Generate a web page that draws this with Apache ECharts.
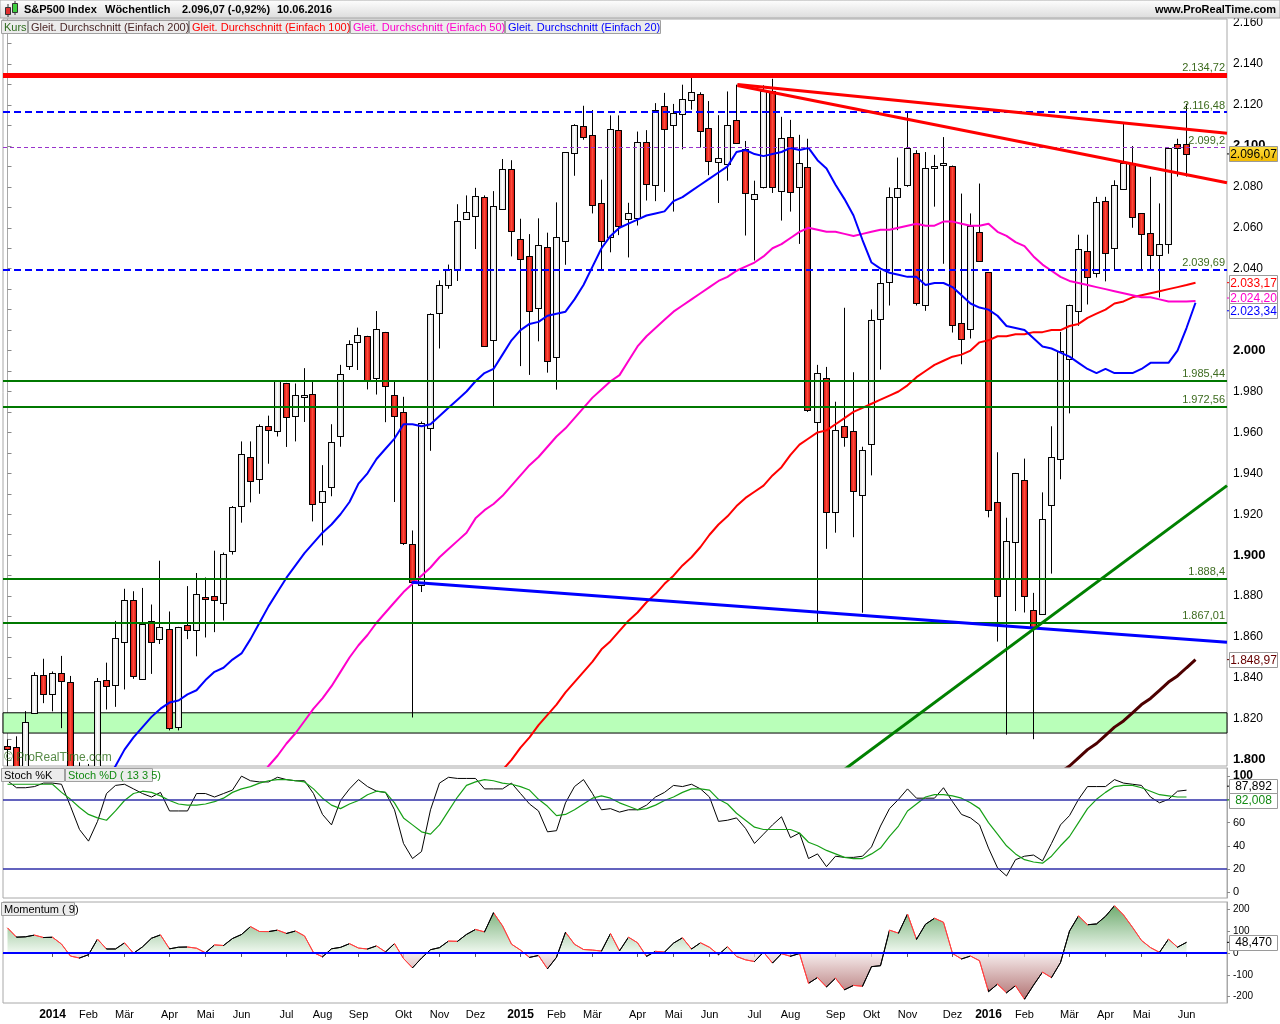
<!DOCTYPE html>
<html>
<head>
<meta charset="utf-8">
<title>S&amp;P500 Index Wöchentlich</title>
<script src="https://cdn.jsdelivr.net/npm/echarts@6/dist/echarts.min.js"></script>
<style>
html, body { margin: 0; padding: 0; background: #fff; }
#chart { width: 1280px; height: 1024px; }
</style>
</head>
<body>
<div id="chart"></div>
<script>
// weekly bars, first week starts Mon 2013-12-02, last one is the week of 06.06.2016
const firstWeek = '2013-12-02';
const weekCount = 136; // 132 bars + 4 empty weeks on the right
const monthAbbr = ['Jan', 'Feb', 'Mär', 'Apr', 'Mai', 'Jun', 'Jul', 'Aug', 'Sep', 'Okt', 'Nov', 'Dez'];

const open = [1806.6,1806.2,1776.0,1822.9,1841.5,1832.3,1842.3,1837.9,1791.0,1782.7,
1796.2,1838.8,1836.8,1857.7,1877.9,1839.6,1867.7,1859.2,1863.9,1816.0,
1865.8,1863.6,1879.5,1880.0,1876.7,1902.0,1923.9,1948.0,1937.2,1962.9,
1960.8,1984.2,1968.0,1977.1,1979.0,1926.0,1933.4,1958.4,1992.6,2004.1,
2007.2,1986.8,2009.1,1978.2,1970.0,1905.6,1885.6,1962.0,2018.2,2032.0,
2039.7,2064.1,2065.8,2074.8,2005.0,2069.3,2088.5,2054.4,2046.1,2020.8,
2050.4,1996.7,2053.5,2096.5,2109.8,2105.2,2072.3,2055.4,2108.0,2064.1,
2065.0,2102.0,2081.0,2119.3,2110.2,2115.6,2122.3,2125.3,2108.6,2092.3,
2091.3,2112.5,2098.6,2074.0,2080.0,2126.8,2078.2,2104.5,2080.0,2089.7,
1965.2,1986.7,1921.0,1963.1,1960.8,1929.2,1954.3,2015.6,2033.5,2075.1,
2080.8,2096.6,2022.1,2089.4,2090.9,2090.4,2013.4,2010.3,2057.8,2038.2,
1926.1,1888.7,1906.3,1936.9,1873.3,1871.4,1924.4,1947.0,1996.1,2019.3,
2048.6,2037.9,2073.2,2050.0,2078.8,2091.6,2067.2,2057.6,2046.5,2052.2,
2100.8,2100.8];

const high = [1810.0,1811.5,1823.8,1842.8,1849.4,1843.2,1850.8,1841.0,1798.8,1798.0,
1840.0,1847.5,1867.9,1883.6,1882.4,1884.0,1875.9,1897.3,1872.5,1865.0,
1884.9,1891.3,1889.1,1902.2,1901.3,1924.0,1955.6,1955.6,1963.9,1968.2,
1985.6,1984.2,1983.9,1991.4,1984.9,1944.0,1964.0,1993.0,2005.0,2011.2,
2007.2,2019.3,2009.1,1985.2,1977.4,1912.1,1965.3,2018.2,2034.3,2042.0,
2071.5,2075.8,2079.5,2075.8,2077.9,2093.6,2093.0,2064.4,2056.9,2064.6,
2057.6,2072.4,2097.0,2110.6,2119.6,2117.5,2083.5,2114.9,2114.9,2072.2,
2107.0,2107.7,2120.9,2125.9,2120.5,2129.9,2134.7,2126.2,2121.9,2115.0,
2126.6,2129.9,2102.4,2083.0,2129.6,2132.8,2114.2,2112.7,2105.4,2103.5,
1993.0,1992.0,1975.0,2020.9,1989.4,1953.0,2020.1,2039.1,2079.7,2094.3,
2116.5,2097.9,2097.0,2095.6,2104.3,2090.4,2076.7,2067.0,2081.6,2038.2,
1950.3,1918.3,1940.2,1947.2,1881.6,1930.7,1963.0,2009.1,2022.4,2056.6,
2056.6,2075.1,2075.1,2083.2,2111.1,2099.9,2067.2,2084.9,2071.9,2099.3,
2103.5,2120.6];

const low = [1779.1,1772.3,1767.1,1822.9,1827.7,1823.7,1815.5,1790.3,1770.5,1737.9,
1791.8,1824.6,1825.9,1834.4,1839.6,1839.6,1842.0,1856.6,1814.4,1814.4,
1859.0,1850.6,1859.8,1862.4,1868.1,1900.3,1915.9,1925.8,1930.0,1944.7,
1958.0,1952.9,1955.6,1965.1,1916.5,1904.8,1928.8,1953.0,1990.5,1990.5,
1981.0,1978.5,1965.0,1926.0,1905.0,1820.7,1882.0,1951.0,2001.0,2030.2,
2034.0,2064.1,2049.6,2002.3,1972.6,2069.3,2046.0,1992.4,1988.1,2004.5,
1989.2,1980.9,2041.9,2085.4,2103.0,2067.0,2039.7,2048.0,2056.4,2045.5,
2061.1,2073.3,2073.0,2077.5,2067.9,2098.3,2117.7,2099.2,2085.7,2072.1,
2083.0,2101.0,2056.2,2044.0,2079.2,2077.0,2063.5,2067.9,2052.1,1970.0,
1867.0,1903.1,1911.0,1953.0,1908.8,1871.9,1939.0,1990.7,2022.0,2058.8,
2080.0,2022.0,2019.4,2070.3,2042.4,2008.8,1993.3,2005.9,2043.6,1918.5,
1857.8,1812.3,1872.7,1872.0,1810.1,1871.4,1891.0,1937.1,1969.3,2012.1,
2022.5,2035.7,2033.8,2039.7,2078.8,2060.0,2039.7,2039.5,2025.9,2047.3,
2085.0,2085.0];

const close = [1805.1,1775.3,1818.3,1841.4,1832.0,1842.4,1838.7,1790.3,1782.6,1797.0,
1838.6,1836.3,1859.5,1878.0,1841.1,1866.5,1857.6,1865.1,1815.7,1864.9,
1863.4,1881.1,1878.5,1877.9,1900.5,1923.6,1949.4,1936.2,1962.9,1961.0,
1985.4,1967.6,1978.2,1978.3,1925.2,1931.6,1955.1,1988.4,2003.4,2007.7,
1985.5,2010.4,1982.9,1967.9,1906.1,1886.8,1964.6,2018.1,2031.9,2039.8,
2063.5,2067.6,2075.4,2002.3,2070.7,2088.8,2058.2,2044.8,2019.4,2051.8,
1995.0,2055.5,2097.0,2110.3,2104.5,2071.3,2053.4,2108.1,2061.0,2067.0,
2102.1,2081.2,2117.7,2108.3,2116.1,2122.7,2126.1,2107.4,2092.8,2094.1,
2110.0,2101.5,2076.8,2076.6,2126.6,2079.7,2103.8,2077.6,2091.5,1970.9,
1988.9,1921.2,1961.1,1958.0,1931.3,1951.4,2014.9,2033.1,2075.2,2079.4,
2099.2,2023.0,2089.2,2090.1,2091.7,2012.4,2005.6,2061.0,2043.9,1922.0,
1880.3,1906.9,1940.2,1880.1,1864.8,1917.8,1948.1,2000.0,2022.2,2049.6,
2035.9,2072.8,2047.6,2080.7,2091.6,2065.3,2057.1,2046.6,2052.3,2099.1,
2099.1,2096.07];

// moving averages (first value sits at the given week index)
const ma20Start = 11;
const ma20 = [1790,1797,1805,1811,1816,1821,1825,1828,1829,1832,1834,1839,1843,1845,1849,1852,1859,1867,1875,1882,
1889,1895,1901,1906,1911,1915,1920,1926,1935,1940,1947,1952,1957,1964,1964,1963,1964,1968,1972,1976,
1980,1985,1989,1991,1998,2005,2010,2013,2014,2017,2018,2019,2025,2032,2041,2050,2056,2060,2062,2064,
2066,2067,2068,2073,2075,2078,2081,2084,2087,2090,2097,2098,2096,2095,2096,2097,2099,2098,2099,2093,
2089,2081,2074,2066,2054,2043,2040,2038,2037,2036,2036,2032,2033,2033,2031,2027,2023,2021,2020,2017,
2012,2011,2010,2006,2002,2001,1999,1997,1994,1991,1989,1991,1989,1989,1989,1991,1994,1994,1994,2000,
2011,2023.34];
const ma50Start = 28;
const ma50 = [1791,1797,1802,1808,1813,1819,1825,1830,1836,1843,1850,1856,1861,1867,1872,1877,1882,1886,1890,1894,
1899,1903,1907,1911,1918,1922,1925,1929,1934,1939,1944,1948,1953,1958,1962,1967,1972,1977,1981,1985,
1988,1995,2002,2007,2011,2015,2019,2022,2025,2028,2031,2034,2036,2039,2041,2043,2046,2050,2052,2055,
2058,2060,2059,2058,2058,2057,2056,2057,2058,2059,2059,2060,2061,2062,2061,2061,2063,2063,2062,2061,
2061,2062,2058,2056,2053,2051,2046,2042,2039,2036,2034,2033,2032,2031,2030,2029,2028,2027,2026,2026,
2025,2024,2024,2024,2024.20];
const ma100Start = 54;
const ma100 = [1790,1795,1800,1806,1811,1817,1822,1827,1833,1838,1843,1848,1854,1858,1863,1868,1872,1877,1881,1886,
1890,1895,1899,1904,1910,1915,1919,1924,1928,1931,1934,1939,1943,1949,1954,1957,1960,1961,1964,1967,
1970,1972,1974,1976,1978,1980,1983,1987,1990,1993,1995,1997,1998,2000,2004,2005,2007,2007,2008,2008,
2009,2009,2010,2010,2012,2013,2016,2018,2020,2023,2024,2026,2027,2028,2029,2030,2031,2032,2033.17];
const ma200Start = 117;
const ma200 = [1794,1797,1801,1805,1808,1812,1816,1819,1823,1827,1830,1834,1838,1841,1845,1848.97];

// horizontal levels and drawn trend lines (week index, price)
const levelValues = [2134.72, 2116.48, 2099.2, 2039.69, 1985.44, 1972.56, 1888.4, 1867.01];
const zoneBand = [1813.1, 1823.0];
const trendUpperRed = [[81.1, 2130.0], [135.5, 2106.2]];
const trendLowerRed = [[81.1, 2129.5], [135.5, 2082.0]];
const trendBlue = [[44.9, 1886.8], [135.5, 1857.5]];
const trendGreen = [[91.0, 1788.8], [135.5, 1934.0]];

// Stochastic (13 3 5)
const stochK = [96,90,90,91,94,94,93,74,54,44,61,85,92,93,89,85,82,86,70,70,
70,85,85,82,85,88,100,96,95,95,99,97,96,96,85,67,58,79,89,97,
91,87,86,71,42,29,35,71,94,99,98,98,98,89,89,89,94,85,76,70,
52,53,77,91,97,85,71,72,69,71,71,75,82,86,92,91,93,89,82,61,
62,64,55,42,50,58,65,47,51,29,33,22,31,30,30,31,39,57,72,80,
89,81,81,81,90,78,67,64,58,38,21,14,28,31,32,27,42,58,66,80,
91,91,91,97,94,93,92,82,77,80,87,87.892];
const stochD = [93,93,93,93,93,93,86,80,73,67,64,62,70,79,85,87,86,83,79,76,
75,75,76,78,81,86,89,91,94,96,97,97,96,95,89,81,75,72,76,79,
84,87,86,77,64,58,52,50,58,70,82,92,95,97,96,94,93,91,88,80,
74,66,67,71,76,81,83,81,77,74,71,72,75,79,82,86,89,89,88,80,
76,68,62,56,54,54,54,54,51,43,40,36,33,30,29,29,33,38,48,57,
70,76,82,84,84,83,81,77,72,60,50,40,33,28,26,25,31,40,48,60,
72,80,86,91,92,92,90,87,84,83,82,82.008];

// Momentum (9)
const momentum = [114.6,72.1,73.8,81.6,70.4,71.8,40.5,-14.5,-23.2,-8.1,
63.3,18.0,18.1,46.0,-1.3,27.8,67.3,82.5,18.7,26.3,
27.1,21.6,0.5,36.8,34.0,66.0,84.3,120.5,98.0,97.6,
104.3,89.1,100.3,77.8,1.6,-17.8,18.9,25.5,42.4,22.3,
17.9,32.2,4.6,42.7,-25.5,-68.3,-23.8,14.7,24.2,54.3,
53.1,84.7,107.5,96.2,183.9,124.2,40.1,12.9,-20.4,-11.7,
-72.6,-19.9,94.7,39.6,15.7,13.1,8.6,88.7,9.2,72.0,
46.6,-15.8,7.4,3.8,44.8,69.3,18.0,46.4,25.8,-8.0,
28.8,-16.2,-31.5,-39.5,3.9,-46.4,-3.6,-15.2,-2.6,-139.1,
-112.6,-155.6,-115.5,-168.6,-148.4,-152.4,-62.7,-58.4,104.3,90.5,
178.0,61.9,131.2,158.8,140.3,-2.5,-27.5,-14.2,-35.5,-177.2,
-142.7,-182.3,-149.9,-211.6,-147.6,-87.8,-112.9,-43.9,100.2,169.3,
129.0,132.6,167.5,215.9,173.8,117.2,57.1,24.4,2.7,63.2,
26.3,48.47];

const priceLabels = [1800,1820,1840,1860,1880,1900,1920,1940,1960,1980,2000,2020,2040,2060,2080,2100,2120,2140,2160];
const stochLabels = [0, 20, 40, 60, 80, 100];
const stochBands = [80, 20];
const momLabels = [-200, -100, 0, 100, 200];

// ---------------------------------------------------------------
const FONT = '"Liberation Sans", Arial, sans-serif';

const weeks = [];
const t0 = Date.parse(firstWeek + 'T00:00:00Z');
for (let i = 0; i < weekCount; i++) {
  weeks.push(new Date(t0 + i * 7 * 86400000).toISOString().slice(0, 10));
}
const lastBar = close.length - 1;
function isMonthStart(i) {
  if (i <= 0 || i > lastBar) return false;
  return weeks[i].slice(5, 7) !== weeks[i - 1].slice(5, 7);
}

function fmtDe(v) {
  const s = String(v);
  const parts = s.split('.');
  const neg = parts[0].charAt(0) === '-';
  const digits = neg ? parts[0].slice(1) : parts[0];
  const grouped = digits.replace(/\B(?=(\d{3})+(?!\d))/g, '.');
  return (neg ? '-' : '') + grouped + (parts[1] ? ',' + parts[1] : '');
}
function fmtFix(v, d) { return fmtDe(v.toFixed(d)); }

function padSeries(start, vals) {
  const out = new Array(weekCount).fill(null);
  vals.forEach((v, k) => { out[start + k] = v; });
  return out;
}

const candleData = open.map((o, i) => [i, o, close[i], low[i], high[i]]);
const priceTicks = [];
priceLabels.forEach(v => { priceTicks.push(v); if (v + 10 <= 2160) priceTicks.push(v + 10); });

const grad = (a, b) => new echarts.graphic.LinearGradient(0, 0, 1, 0, [
  { offset: 0, color: a }, { offset: 0.5, color: b }, { offset: 1, color: a }
]);
const upFill = grad('#d4d4d4', '#ffffff');
const downFill = grad('#c40000', '#ff4a3a');

// candle drawn by hand so it can be clipped to the price panel
function renderCandle(params, api) {
  const i = api.value(0);
  const o = api.value(1), c = api.value(2), l = api.value(3), h = api.value(4);
  const pO = api.coord([i, o]);
  const cx = Math.round(pO[0]) - 1;
  const yC = api.coord([i, c])[1];
  const yH = api.coord([i, h])[1];
  const yL = api.coord([i, l])[1];
  const top = Math.round(Math.min(pO[1], yC)) + 0.5;
  const bot = Math.round(Math.max(pO[1], yC)) + 0.5;
  return {
    type: 'group',
    children: [
      { type: 'line', shape: { x1: cx + 0.5, y1: yH, x2: cx + 0.5, y2: yL }, style: { stroke: '#000', lineWidth: 1 } },
      { type: 'rect', shape: { x: cx - 2.5, y: top, width: 6, height: Math.max(bot - top, 1) },
        style: { fill: c >= o ? upFill : downFill, stroke: '#000', lineWidth: 1 } }
    ]
  };
}

const levelStyles = [
  { color: '#ff0000', width: 5, type: 'solid' },
  { color: '#0000ff', width: 2, type: [7, 4] },
  { color: '#9933cc', width: 1, type: [4, 3] },
  { color: '#0000ff', width: 2, type: [7, 4] },
  { color: '#007800', width: 2, type: 'solid' },
  { color: '#007800', width: 2, type: 'solid' },
  { color: '#007800', width: 2, type: 'solid' },
  { color: '#007800', width: 2, type: 'solid' }
];

const momPieces = [];
for (let i = 1; i < momentum.length; i++) {
  momPieces.push({ gt: i - 1, lte: i, color: momentum[i] >= momentum[i - 1] ? '#000000' : '#ff4040' });
}

const GRID_L = 3, GRID_W = 1224;

const option = {
  animation: false,
  backgroundColor: '#ffffff',
  textStyle: { fontFamily: FONT },
  grid: [
    { left: GRID_L, width: GRID_W, top: 19, height: 747, show: true, borderColor: '#a8a8a8', borderWidth: 1 },
    { left: GRID_L, width: GRID_W, top: 768, height: 130, show: true, borderColor: '#a8a8a8', borderWidth: 1 },
    { left: GRID_L, width: GRID_W, top: 902, height: 101, show: true, borderColor: '#a8a8a8', borderWidth: 1 }
  ],
  xAxis: [
    { type: 'category', gridIndex: 0, data: weeks, axisLine: { show: false }, axisTick: { show: false }, axisLabel: { show: false } },
    { type: 'category', gridIndex: 1, data: weeks, axisLine: { show: false }, axisTick: { show: false }, axisLabel: { show: false } },
    {
      type: 'category', gridIndex: 2, data: weeks,
      axisLine: { show: true, lineStyle: { color: '#a8a8a8' } },
      axisTick: { show: true, alignWithLabel: true, length: 4, interval: (i) => isMonthStart(i), lineStyle: { color: '#555' } },
      axisLabel: {
        interval: (i) => isMonthStart(i),
        margin: 6, fontSize: 11, color: '#000', fontFamily: FONT,
        formatter: (value) => {
          const m = +value.slice(5, 7);
          return m === 1 ? '{y|' + value.slice(0, 4) + '}' : monthAbbr[m - 1];
        },
        rich: { y: { fontWeight: 'bold', fontSize: 12, fontFamily: FONT, color: '#000' } }
      }
    },
    { type: 'value', gridIndex: 0, min: -0.5, max: weekCount - 0.5, show: false }
  ],
  yAxis: [
    {
      type: 'value', gridIndex: 0, position: 'right', min: 1797, max: 2162,
      splitLine: { show: false },
      axisLine: { show: true, lineStyle: { color: '#a8a8a8' } },
      axisTick: { show: true, length: 4, customValues: priceTicks, lineStyle: { color: '#888' } },
      axisLabel: {
        customValues: priceLabels, margin: 6, fontSize: 12, color: '#000', fontFamily: FONT,
        formatter: v => (v % 100 === 0 ? '{b|' + fmtDe(v) + '}' : fmtDe(v)),
        rich: { b: { fontWeight: 'bold', fontSize: 13, fontFamily: FONT, color: '#000' } }
      }
    },
    {
      type: 'value', gridIndex: 1, position: 'right', min: -5, max: 107,
      splitLine: { show: false },
      axisLine: { show: true, lineStyle: { color: '#a8a8a8' } },
      axisTick: { show: true, length: 3, customValues: stochLabels, lineStyle: { color: '#888' } },
      axisLabel: {
        customValues: stochLabels, margin: 6, fontSize: 11, color: '#000', fontFamily: FONT,
        formatter: v => (v === 100 ? '{b|100}' : String(v)),
        rich: { b: { fontWeight: 'bold', fontSize: 12, fontFamily: FONT } }
      }
    },
    {
      type: 'value', gridIndex: 2, position: 'right', min: -229, max: 233,
      splitLine: { show: false },
      axisLine: { show: true, lineStyle: { color: '#a8a8a8' } },
      axisTick: { show: true, length: 3, customValues: momLabels, lineStyle: { color: '#888' } },
      axisLabel: { customValues: momLabels, margin: 6, fontSize: 10, color: '#000', fontFamily: FONT }
    }
  ],
  visualMap: [{
    type: 'piecewise', show: false, dimension: 0, seriesIndex: 12,
    pieces: momPieces, outOfRange: { color: '#000' }
  }],
  series: [
    // 0 green zone
    {
      type: 'line', xAxisIndex: 3, yAxisIndex: 0, data: [], z: 1, silent: true,
      markArea: {
        silent: true,
        itemStyle: { color: '#b9ffb9', borderColor: '#000', borderWidth: 1 },
        data: [[{ yAxis: zoneBand[0] }, { yAxis: zoneBand[1] }]]
      }
    },
    // 1 candles
    {
      type: 'custom', xAxisIndex: 0, yAxisIndex: 0, data: candleData, z: 2, clip: true,
      encode: { x: 0, y: [1, 2, 3, 4] },
      renderItem: renderCandle
    },
    // 2-5 moving averages
    { type: 'line', xAxisIndex: 0, yAxisIndex: 0, data: padSeries(ma200Start, ma200), showSymbol: false, z: 4, lineStyle: { color: '#4d0000', width: 3 } },
    { type: 'line', xAxisIndex: 0, yAxisIndex: 0, data: padSeries(ma100Start, ma100), showSymbol: false, z: 4, lineStyle: { color: '#ff0000', width: 2 } },
    { type: 'line', xAxisIndex: 0, yAxisIndex: 0, data: padSeries(ma50Start, ma50), showSymbol: false, z: 4, lineStyle: { color: '#ff00cc', width: 2 } },
    { type: 'line', xAxisIndex: 0, yAxisIndex: 0, data: padSeries(ma20Start, ma20), showSymbol: false, z: 4, lineStyle: { color: '#0000ff', width: 2 } },
    // 6-9 trend lines
    {
      type: 'line', xAxisIndex: 3, yAxisIndex: 0, data: trendUpperRed, showSymbol: false, z: 5, silent: true,
      lineStyle: { color: '#ff0000', width: 3 },
      markLine: {
        silent: true, symbol: ['none', 'none'],
        data: levelValues.map((v, k) => ({
          yAxis: v,
          lineStyle: levelStyles[k],
          label: {
            show: true, position: 'insideEndTop', formatter: fmtDe(v), distance: [2, 1],
            color: '#3d6b1f', fontSize: 11, fontFamily: FONT
          }
        }))
      }
    },
    { type: 'line', xAxisIndex: 3, yAxisIndex: 0, data: trendLowerRed, showSymbol: false, z: 5, silent: true, lineStyle: { color: '#ff0000', width: 3 } },
    { type: 'line', xAxisIndex: 3, yAxisIndex: 0, data: trendBlue, showSymbol: false, z: 5, silent: true, lineStyle: { color: '#0000ff', width: 3 } },
    { type: 'line', xAxisIndex: 3, yAxisIndex: 0, data: trendGreen, showSymbol: false, z: 5, silent: true, lineStyle: { color: '#008000', width: 3 } },
    // 10-11 stochastic
    {
      type: 'line', xAxisIndex: 1, yAxisIndex: 1, data: stochK, showSymbol: false, z: 3,
      lineStyle: { color: '#000000', width: 1 },
      markLine: {
        silent: true, symbol: ['none', 'none'], label: { show: false },
        lineStyle: { color: '#2f2fa8', width: 1.5, type: 'solid' },
        data: stochBands.map(v => ({ yAxis: v }))
      }
    },
    { type: 'line', xAxisIndex: 1, yAxisIndex: 1, data: stochD, showSymbol: false, z: 4, lineStyle: { color: '#16a016', width: 1.2 } },
    // 12 momentum
    {
      type: 'line', xAxisIndex: 2, yAxisIndex: 2, data: momentum, showSymbol: false, z: 3,
      lineStyle: { width: 1 },
      areaStyle: {
        origin: 0,
        color: new echarts.graphic.LinearGradient(0, 909, 0, 997, [
          { offset: 0, color: '#3f8f3f' },
          { offset: 0.5, color: '#eaf6ea' },
          { offset: 0.5, color: '#f2e4e4' },
          { offset: 1, color: '#964040' }
        ], true)
      },
      markLine: {
        silent: true, symbol: ['none', 'none'], label: { show: false },
        lineStyle: { color: '#0000ff', width: 2, type: 'solid' },
        data: [{ yAxis: 0 }]
      }
    }
  ]
};

const chart = echarts.init(document.getElementById('chart'));
chart.setOption(option);

// ---- overlays: header, legends, value tags ----
const gfx = [];
gfx.push({
  type: 'rect', shape: { x: 0, y: 0, width: 1280, height: 18 }, z: 100,
  style: { fill: new echarts.graphic.LinearGradient(0, 0, 0, 1, [{ offset: 0, color: '#ffffff' }, { offset: 1, color: '#dcdcdc' }]), stroke: '#a8a8a8', lineWidth: 1 }
});
// icon
gfx.push({ type: 'line', shape: { x1: 8, y1: 4, x2: 8, y2: 17 }, z: 101, style: { stroke: '#333', lineWidth: 1 } });
gfx.push({ type: 'rect', shape: { x: 5.5, y: 7.5, width: 5, height: 7 }, z: 102, style: { fill: '#e03030', stroke: '#333', lineWidth: 1 } });
gfx.push({ type: 'line', shape: { x1: 15, y1: 1, x2: 15, y2: 15 }, z: 101, style: { stroke: '#333', lineWidth: 1 } });
gfx.push({ type: 'rect', shape: { x: 12.5, y: 3.5, width: 5, height: 9 }, z: 102, style: { fill: '#40d040', stroke: '#333', lineWidth: 1 } });

const headerParts = [
  { x: 24, text: 'S&P500 Index' },
  { x: 105, text: 'Wöchentlich' },
  { x: 182, text: fmtFix(close[lastBar], 2) + ' (-0,92%)' },
  { x: 277, text: '10.06.2016' }
];
headerParts.forEach(p => gfx.push({
  type: 'text', x: p.x, y: 10, z: 103,
  style: { text: p.text, font: 'bold 11px ' + FONT, fill: '#000', textVerticalAlign: 'middle' }
}));
gfx.push({
  type: 'text', x: 1276, y: 10, z: 103,
  style: { text: 'www.ProRealTime.com', font: 'bold 11px ' + FONT, fill: '#000', textAlign: 'right', textVerticalAlign: 'middle' }
});

function labelBox(x, y, w, text, color) {
  gfx.push({ type: 'rect', shape: { x: x + 0.5, y: y + 0.5, width: w, height: 13 }, z: 110, style: { fill: '#ececec', stroke: '#a0a0a0', lineWidth: 1 } });
  gfx.push({ type: 'text', x: x + 3, y: y + 7.5, z: 111, style: { text: text, font: '11px ' + FONT, fill: color, textVerticalAlign: 'middle' } });
}
labelBox(1, 20, 26, 'Kurs', '#2e6b1e');
labelBox(28, 20, 160, 'Gleit. Durchschnitt (Einfach 200)', '#4a2626');
labelBox(189, 20, 160, 'Gleit. Durchschnitt (Einfach 100)', '#ff0000');
labelBox(350, 20, 154, 'Gleit. Durchschnitt (Einfach 50)', '#ff00cc');
labelBox(505, 20, 155, 'Gleit. Durchschnitt (Einfach 20)', '#0000ff');
labelBox(1, 768, 63, 'Stoch %K', '#000');
labelBox(65, 768, 87, 'Stoch %D ( 13 3 5)', '#128a12');
labelBox(1, 902, 73, 'Momentum ( 9)', '#000');

gfx.push({
  type: 'text', x: 4, y: 758, z: 90,
  style: { text: '© ProRealTime.com', font: '12px ' + FONT, fill: 'rgba(45,110,25,0.8)', textVerticalAlign: 'middle' }
});

function valueTag(axisIdx, value, text, color, bg, dy) {
  const y = chart.convertToPixel({ yAxisIndex: axisIdx }, value) + (dy || 0);
  gfx.push({ type: 'line', shape: { x1: 1227, y1: y, x2: 1231, y2: y }, z: 120, style: { stroke: color, lineWidth: 1 } });
  gfx.push({ type: 'rect', shape: { x: 1229.5, y: Math.round(y - 7.5) + 0.5, width: 48, height: 15 }, z: 121, style: { fill: bg, stroke: '#9a9a9a', lineWidth: 1 } });
  gfx.push({ type: 'text', x: 1253.5, y: Math.round(y) + 0.5, z: 122, style: { text: text, font: '12px ' + FONT, fill: color, textAlign: 'center', textVerticalAlign: 'middle' } });
}
const last = a => a[a.length - 1];
valueTag(0, last(ma100), fmtFix(last(ma100), 2), '#ff0000', '#ffffff', 0);
valueTag(0, last(ma50), fmtFix(last(ma50), 2), '#ff00cc', '#ffffff', -3);
valueTag(0, last(ma20), fmtFix(last(ma20), 2), '#0000ff', '#ffffff', 8);
valueTag(0, last(ma200), fmtFix(last(ma200), 2), '#660000', '#ffffff', 0);
valueTag(0, close[lastBar], fmtFix(close[lastBar], 2),
  '#000000', new echarts.graphic.LinearGradient(0, 0, 0, 1, [{ offset: 0, color: '#ffe040' }, { offset: 1, color: '#f0b800' }]), 0);
valueTag(1, last(stochK), fmtFix(last(stochK), 3), '#000000', '#ffffff', -4);
valueTag(1, last(stochD), fmtFix(last(stochD), 3), '#128a12', '#ffffff', 3);
valueTag(2, last(momentum), fmtFix(last(momentum), 3), '#000000', '#ffffff', 0);

chart.setOption({ graphic: gfx });
</script>
</body>
</html>
